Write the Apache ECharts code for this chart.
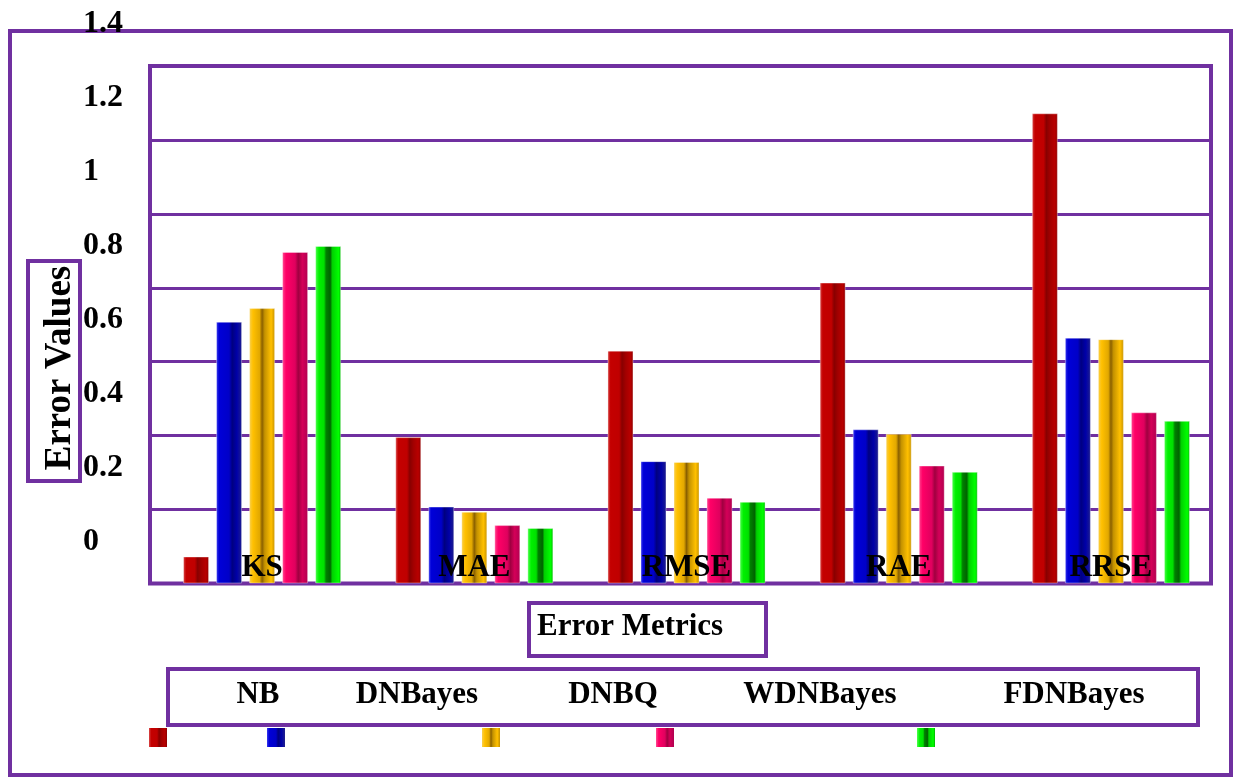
<!DOCTYPE html>
<html>
<head>
<meta charset="utf-8">
<title>Error Metrics</title>
<script src="https://cdn.jsdelivr.net/npm/echarts@6/dist/echarts.min.js"></script>
<style>
  html, body { margin: 0; padding: 0; background: #ffffff; }
  #chart { width: 1235px; height: 779px; }
</style>
</head>
<body>
<div id="chart"></div>
<script>
// Error metric categories and the classifier series
const categories = ['KS', 'MAE', 'RMSE', 'RAE', 'RRSE'];
const seriesNames = ['NB', 'DNBayes', 'DNBQ', 'WDNBayes', 'FDNBayes'];

const nbValues       = [0.073, 0.396, 0.630, 0.814, 1.272];
const dnBayesValues  = [0.708, 0.208, 0.331, 0.417, 0.665];
const dnbqValues     = [0.745, 0.194, 0.329, 0.405, 0.661];
const wdnBayesValues = [0.897, 0.158, 0.232, 0.319, 0.463];
const fdnBayesValues = [0.913, 0.150, 0.221, 0.302, 0.440];

// Value axis range
const yMin = 0;
const yMax = 1.4;
const yStep = 0.2;

const axisTitleY = 'Error Values';
const axisTitleX = 'Error Metrics';

const seriesValues = [nbValues, dnBayesValues, dnbqValues, wdnBayesValues, fdnBayesValues];

const PURPLE = '#7030a0';
const FONT = '"Liberation Serif", "Times New Roman", serif';

// Shaded fills giving each bar a rounded, glossy look
function shade(stops) {
  return {
    type: 'linear', x: 0, y: 0, x2: 1, y2: 0,
    colorStops: stops.map(function (s) { return { offset: s[0], color: s[1] }; })
  };
}
const fills = [
  shade([[0, '#d84a4a'], [0.12, '#c40000'], [0.45, '#c00000'], [0.56, '#880000'], [0.7, '#a20000'], [0.88, '#b80000'], [1, '#8c0000']]),
  shade([[0, '#3a3af0'], [0.12, '#0000d8'], [0.5, '#0000c8'], [0.62, '#000080'], [0.8, '#0000a8'], [1, '#20208c']]),
  shade([[0, '#f8d050'], [0.15, '#ffc000'], [0.4, '#e2a800'], [0.5, '#8a6000'], [0.6, '#c49200'], [0.85, '#ffc000'], [1, '#c49000']]),
  shade([[0, '#ff4a92'], [0.15, '#ff0066'], [0.5, '#e0005e'], [0.62, '#a00040'], [0.78, '#d40058'], [1, '#b00050']]),
  shade([[0, '#50ff50'], [0.15, '#00f000'], [0.34, '#00e000'], [0.42, '#008000'], [0.58, '#006400'], [0.66, '#00d000'], [0.9, '#00ff00'], [1, '#00b000']])
];

// Legend layout under the plot: text centres and swatch centres
const legendTextX = [258, 417, 613, 820, 1074];
const legendSwatchX = [158, 276, 491, 665, 926];

const graphics = [
  // outer frame
  { type: 'rect', z: 0, shape: { x: 10, y: 31, width: 1221, height: 744 },
    style: { fill: 'none', stroke: PURPLE, lineWidth: 4 } },
  // y axis title box
  { type: 'rect', z: 1, shape: { x: 28, y: 261, width: 52, height: 220 },
    style: { fill: 'none', stroke: PURPLE, lineWidth: 4 } },
  { type: 'text', z: 5, x: 60, y: 368, rotation: Math.PI / 2,
    style: { text: axisTitleY, font: 'bold 37px ' + FONT, fill: '#000',
      textAlign: 'center', textVerticalAlign: 'middle' } },
  // x axis title box
  { type: 'rect', z: 1, shape: { x: 529, y: 603, width: 237, height: 53 },
    style: { fill: 'none', stroke: PURPLE, lineWidth: 4 } },
  { type: 'text', z: 5, x: 537, y: 627,
    style: { text: axisTitleX, font: 'bold 31px ' + FONT, fill: '#000',
      textAlign: 'left', textVerticalAlign: 'middle' } },
  // legend box
  { type: 'rect', z: 1, shape: { x: 168, y: 669, width: 1030, height: 56 },
    style: { fill: 'none', stroke: PURPLE, lineWidth: 4 } }
];
seriesNames.forEach(function (name, i) {
  graphics.push({ type: 'text', z: 5, x: legendTextX[i], y: 695,
    style: { text: name, font: 'bold 31px ' + FONT, fill: '#000',
      textAlign: 'center', textVerticalAlign: 'middle' } });
  graphics.push({ type: 'rect', z: 5,
    shape: { x: legendSwatchX[i] - 9, y: 728, width: 18, height: 19 },
    style: { fill: fills[i] } });
});

const chart = echarts.init(document.getElementById('chart'), null, { renderer: 'canvas' });

const gridBase = { containLabel: false, outerBoundsMode: 'none' };

chart.setOption({
  backgroundColor: '#ffffff',
  animation: false,
  graphic: graphics,
  grid: [
    // frame and gridlines
    Object.assign({ left: 150, right: 24, top: 66, bottom: 195.5, show: true,
      borderColor: PURPLE, borderWidth: 4, backgroundColor: 'transparent', z: 1 }, gridBase),
    // bars
    Object.assign({ left: 156, right: 18, top: 66, bottom: 195.5, show: false }, gridBase),
    // tick labels, set a little above their gridlines
    Object.assign({ left: 150, right: 24, top: 24, bottom: 237.5, show: false }, gridBase)
  ],
  xAxis: [
    { type: 'category', gridIndex: 0, data: categories, show: false },
    { type: 'category', gridIndex: 1, data: categories, z: 10,
      axisLine: { show: false }, axisTick: { show: false }, splitLine: { show: false },
      axisLabel: { inside: true, margin: 0, fontFamily: FONT, fontWeight: 'bold',
        fontSize: 31, color: '#000', lineHeight: 31 } },
    { type: 'category', gridIndex: 2, data: categories, show: false }
  ],
  yAxis: [
    { type: 'value', gridIndex: 0, min: yMin, max: yMax, interval: yStep,
      axisLine: { show: false }, axisTick: { show: false }, axisLabel: { show: false },
      splitLine: { show: true, lineStyle: { color: PURPLE, width: 3 } } },
    { type: 'value', gridIndex: 1, min: yMin, max: yMax, interval: yStep, show: false,
      splitLine: { show: false } },
    { type: 'value', gridIndex: 2, min: yMin, max: yMax, interval: yStep, z: 5,
      axisLine: { show: false }, axisTick: { show: false }, splitLine: { show: false },
      axisLabel: { align: 'left', margin: 67, showMinLabel: true, showMaxLabel: true,
        fontFamily: FONT, fontWeight: 'bold', fontSize: 32, color: '#000' } }
  ],
  series: seriesNames.map(function (name, i) {
    return {
      name: name,
      type: 'bar',
      xAxisIndex: 1,
      yAxisIndex: 1,
      barWidth: 26,
      barGap: '27%',
      data: seriesValues[i],
      itemStyle: { color: fills[i], borderColor: 'rgba(255,255,255,0.35)', borderWidth: 1 },
      z: 3
    };
  })
});
</script>
</body>
</html>
